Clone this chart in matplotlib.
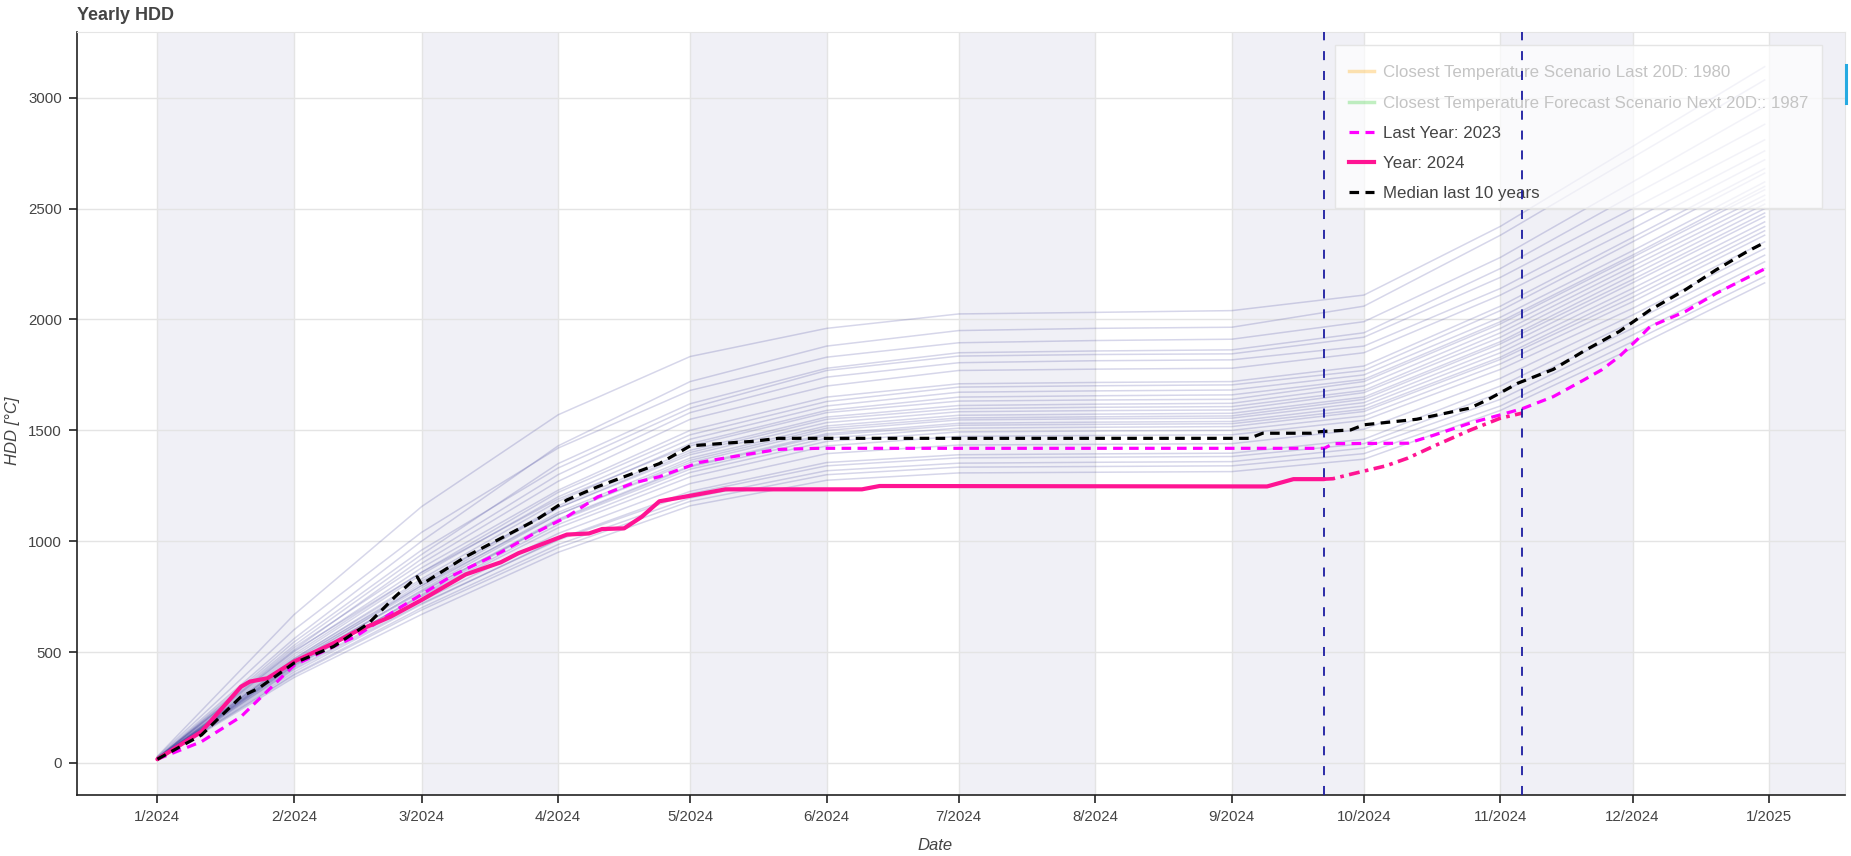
import numpy as np
import pandas as pd
import matplotlib
matplotlib.use('Agg')
import matplotlib.pyplot as plt
import matplotlib.dates as mdates
from matplotlib.lines import Line2D
from matplotlib.patches import Rectangle
from matplotlib.ticker import FuncFormatter, MultipleLocator

plt.rcParams['font.family'] = ['Liberation Sans', 'DejaVu Sans']

start = pd.Timestamp('2024-01-01')

# historical years, cumulative HDD at the start of each month (last = 31 Dec)
month_days = [0, 31, 60, 91, 121, 152, 182, 213, 244, 274, 305, 335, 365]
hist_hdd = [
    [30, 668, 1156, 1570, 1833, 1960, 2025, 2032, 2040, 2110, 2420, 2780, 3140],
    [25, 560, 1000, 1430, 1720, 1880, 1950, 1960, 1965, 2060, 2380, 2730, 3080],
    [28, 600, 1040, 1420, 1680, 1830, 1895, 1905, 1911, 1990, 2280, 2620, 2960],
    [22, 530, 940, 1350, 1620, 1780, 1850, 1858, 1863, 1940, 2230, 2560, 2880],
    [20, 545, 960, 1330, 1600, 1770, 1835, 1842, 1845, 1920, 2190, 2500, 2810],
    [24, 510, 920, 1300, 1580, 1740, 1805, 1814, 1818, 1880, 2140, 2450, 2760],
    [18, 520, 900, 1270, 1550, 1700, 1770, 1776, 1780, 1850, 2110, 2410, 2720],
    [22, 500, 880, 1230, 1500, 1650, 1710, 1716, 1720, 1790, 2060, 2370, 2680],
    [20, 490, 860, 1220, 1480, 1630, 1695, 1701, 1705, 1770, 2040, 2350, 2660],
    [19, 480, 850, 1200, 1460, 1610, 1672, 1678, 1682, 1750, 2010, 2310, 2620],
    [17, 470, 830, 1180, 1440, 1590, 1650, 1656, 1660, 1730, 1990, 2290, 2600],
    [21, 505, 860, 1190, 1430, 1580, 1632, 1637, 1640, 1720, 1980, 2280, 2585],
    [18, 460, 810, 1160, 1410, 1560, 1612, 1618, 1622, 1700, 1960, 2260, 2560],
    [16, 450, 800, 1150, 1400, 1550, 1598, 1604, 1607, 1680, 1940, 2240, 2540],
    [19, 470, 820, 1150, 1390, 1535, 1584, 1589, 1592, 1670, 1920, 2220, 2520],
    [17, 455, 790, 1130, 1375, 1520, 1568, 1573, 1577, 1650, 1900, 2200, 2500],
    [15, 440, 780, 1120, 1365, 1510, 1556, 1561, 1565, 1640, 1890, 2180, 2480],
    [18, 465, 800, 1120, 1355, 1500, 1547, 1552, 1555, 1625, 1870, 2165, 2464],
    [16, 445, 770, 1100, 1340, 1485, 1532, 1537, 1540, 1610, 1850, 2140, 2440],
    [14, 430, 760, 1095, 1335, 1478, 1523, 1527, 1530, 1595, 1830, 2120, 2419],
    [17, 450, 775, 1090, 1325, 1465, 1510, 1514, 1517, 1585, 1820, 2100, 2400],
    [15, 435, 755, 1075, 1310, 1450, 1493, 1497, 1500, 1565, 1800, 2080, 2380],
    [16, 440, 750, 1060, 1290, 1430, 1473, 1477, 1480, 1545, 1775, 2050, 2350],
    [14, 425, 730, 1035, 1260, 1395, 1434, 1437, 1440, 1505, 1735, 2020, 2320],
    [13, 410, 715, 1010, 1225, 1355, 1390, 1394, 1397, 1460, 1700, 1990, 2290],
    [15, 420, 720, 1005, 1215, 1340, 1376, 1379, 1382, 1440, 1670, 1960, 2260],
    [12, 400, 700, 985, 1195, 1318, 1352, 1356, 1359, 1420, 1640, 1930, 2230],
    [13, 395, 690, 970, 1180, 1300, 1334, 1337, 1340, 1395, 1610, 1900, 2194],
    [12, 385, 670, 950, 1160, 1275, 1308, 1311, 1314, 1370, 1590, 1870, 2165],
]

# year 2024 observed
y24_days = [0, 10, 19, 21, 25, 31, 40, 45, 53, 60, 70, 78, 82, 93, 98, 101, 106,
            110, 114, 121, 129, 160, 164, 252, 258, 265]
y24_hdd = [17, 141, 344, 367, 382, 457, 540, 592, 660, 735, 850, 905, 946, 1030,
           1035, 1055, 1058, 1110, 1180, 1205, 1234, 1234, 1249, 1247, 1280, 1280]

# year 2024 forecast
fc_days = [265, 267, 271, 279, 284, 290, 298, 305, 310]
fc_hdd = [1280, 1282, 1302, 1340, 1375, 1430, 1500, 1555, 1578]

# last year 2023
y23_days = [0, 10, 19, 31, 40, 45, 55, 60, 67, 78, 86, 93, 100, 108, 114, 123, 133,
            141, 150, 265, 267, 284, 290, 298, 305, 310, 317, 324, 328, 332, 336,
            339, 347, 354, 365]
y23_hdd = [17, 96, 209, 440, 525, 570, 700, 760, 845, 950, 1040, 1110, 1200, 1262,
           1291, 1355, 1389, 1414, 1419, 1419, 1440, 1442, 1479, 1532, 1570, 1598,
           1652, 1728, 1773, 1833, 1908, 1968, 2036, 2118, 2228]

# median last 10 years
med_days = [0, 10, 19, 23, 31, 40, 48, 54, 59, 60, 70, 86, 93, 100, 104, 114, 121,
            131, 135, 141, 248, 251, 262, 264, 271, 274, 286, 298, 302, 309, 317,
            324, 332, 339, 347, 354, 361, 365]
med_hdd = [17, 126, 299, 337, 450, 525, 630, 750, 840, 805, 930, 1096, 1186, 1246,
           1276, 1350, 1430, 1445, 1450, 1464, 1464, 1487, 1487, 1494, 1502, 1525,
           1550, 1600, 1637, 1713, 1775, 1858, 1946, 2043, 2134, 2224, 2306, 2347]

# today and end of forecast window
marker_days = [265, 310]

labels = ['Closest Temperature Scenario Last 20D: 1980',
          'Closest Temperature Forecast Scenario Next 20D:: 1987',
          'Last Year: 2023', 'Year: 2024', 'Median last 10 years']


def to_dates(days):
    return start + pd.to_timedelta(np.array(days), unit='D')


fig = plt.figure(figsize=(18.51, 8.56), dpi=100)
ax = fig.add_axes([77 / 1851, 1 - 795 / 856, 1768 / 1851, 763 / 856])

# alternating month bands
months = pd.date_range('2024-01-01', '2025-03-01', freq='MS')
for i in range(0, len(months) - 1, 2):
    ax.axvspan(months[i], months[i + 1], color='#f0f0f6', zorder=0, lw=0)

hd = to_dates(month_days)
for row in hist_hdd:
    ax.plot(hd, row, color='#2a2a90', alpha=0.19, lw=1.1, zorder=2)

ax.plot(to_dates(y23_days), y23_hdd, color='#ff00ff', lw=2.3, ls=(0, (3, 2)), zorder=3)
ax.plot(to_dates(y24_days), y24_hdd, color='#ff1493', lw=3, zorder=3.5, solid_capstyle='round')
ax.plot(to_dates(fc_days), fc_hdd, color='#ff1493', lw=2.6, ls=(0, (3, 1.5, 1, 1.5)), zorder=3.5)
ax.plot(to_dates(med_days), med_hdd, color='black', lw=2.3, ls=(0, (3, 2)), zorder=4)

for d in to_dates(marker_days):
    ax.axvline(d, color='#1c1ca0', lw=1.3, ls=(0, (5, 6)), zorder=6)

# ranges with 5% padding like the original
all_vals = np.concatenate([np.ravel(hist_hdd), y23_hdd, y24_hdd, med_hdd])
lo, hi = all_vals.min(), all_vals.max()
pad = (hi - lo) * 0.05
ax.set_ylim(lo - pad, hi + pad)
span = month_days[-1] - month_days[0]
ax.set_xlim(to_dates([-span * 0.05])[0], to_dates([span * 1.05])[0])

ax.xaxis.set_major_locator(mdates.MonthLocator())
ax.xaxis.set_major_formatter(FuncFormatter(
    lambda x, pos: f"{mdates.num2date(x).month}/{mdates.num2date(x).year}"))
ax.yaxis.set_major_locator(MultipleLocator(500))

ax.grid(color='#e4e4e4', lw=1)
ax.set_axisbelow(True)
for s in ['top', 'right']:
    ax.spines[s].set_color('#e5e5e5')
for s in ['left', 'bottom']:
    ax.spines[s].set_color('#222222')
    ax.spines[s].set_linewidth(1.2)
ax.tick_params(axis='both', direction='out', length=6, width=1.2, colors='#222222',
               labelcolor='#444444', labelsize=10.8, pad=5)

fig.text(935 / 1851, 1 - 846 / 856, 'Date', fontsize=12, style='italic',
         color='#444444', ha='center', va='center')
fig.text(13 / 1851, 1 - 431 / 856, 'HDD [°C]', fontsize=12, style='italic',
         color='#444444', ha='center', va='center', rotation=90)
ax.set_title('Yearly HDD', loc='left', fontsize=13, fontweight='bold', color='#444444', pad=9)

# legend box drawn separately so the padding can match the original
ax.add_patch(Rectangle((0.7115, 0.769), 0.2755, 0.214, transform=ax.transAxes,
                       facecolor='white', alpha=0.7, edgecolor='none', zorder=4.9))
ax.add_patch(Rectangle((0.7115, 0.769), 0.2755, 0.214, transform=ax.transAxes,
                       facecolor='none', edgecolor='#e5e5e5', lw=1, zorder=4.9))

handles = [
    Line2D([], [], color='#ffa500', alpha=0.3, lw=2.5),
    Line2D([], [], color='#32cd32', alpha=0.3, lw=2.5),
    Line2D([], [], color='#ff00ff', lw=2.3, ls=(0, (3, 2))),
    Line2D([], [], color='#ff1493', lw=3),
    Line2D([], [], color='black', lw=2.3, ls=(0, (3, 2))),
]
leg = ax.legend(handles, labels, loc='upper right', bbox_to_anchor=(0.987, 0.974),
                frameon=False, fontsize=12.2, handlelength=1.45, handletextpad=0.55,
                labelspacing=0.9, borderpad=0.8, borderaxespad=0)
leg.set_zorder(5)
for t in leg.get_texts()[:2]:
    t.set_color('#c4c4c4')
for t in leg.get_texts()[2:]:
    t.set_color('#444444')

# toolbar indicator at the right edge
fig.add_artist(Line2D([1846 / 1851, 1846 / 1851], [1 - 65 / 856, 1 - 103 / 856],
                      color='#26aae1', lw=2.2, transform=fig.transFigure))

fig.savefig('out.png', dpi=100)
